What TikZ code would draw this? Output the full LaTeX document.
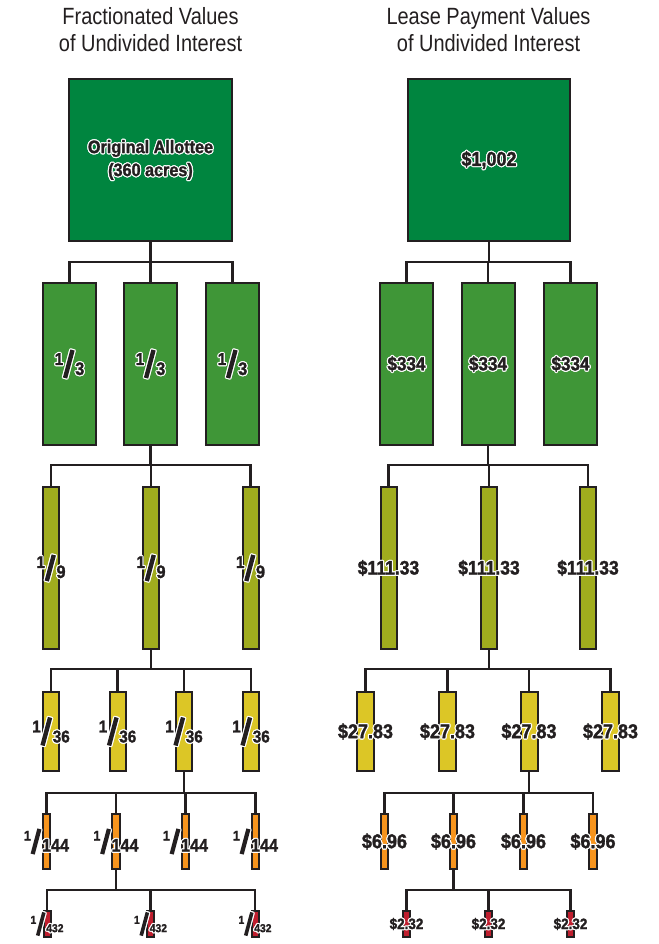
\documentclass[tikz,border=0pt]{standalone}
\usepackage{fontspec}
\setmainfont{Liberation Sans}
\newfontfamily\labfont[FakeStretch=0.9,FakeBold=1.5]{Liberation Sans Bold}
\newfontfamily\titlefont[FakeStretch=0.85]{Liberation Sans}
\definecolor{ink}{HTML}{231F20}
\definecolor{c0}{HTML}{00853F}
\definecolor{c1}{HTML}{3F9637}
\definecolor{c2}{HTML}{A0AC1E}
\definecolor{c3}{HTML}{DCC626}
\definecolor{c4}{HTML}{F7941D}
\definecolor{c5}{HTML}{BF1E2E}
\newsavebox\halobox
\newcommand\halocp[2]{\rlap{\hspace*{#1}\raisebox{#2}{\copy\halobox}}}
\newcommand\halo[1]{\setbox\halobox\hbox{#1}{\color{white}\halocp{1.2pt}{0pt}\halocp{-1.2pt}{0pt}\halocp{0pt}{1.2pt}\halocp{0pt}{-1.2pt}\halocp{0.85pt}{0.85pt}\halocp{-0.85pt}{0.85pt}\halocp{0.85pt}{-0.85pt}\halocp{-0.85pt}{-0.85pt}}{\color{ink}\copy\halobox}}
\newcommand\lab[2]{\makebox[0pt]{\halo{\labfont\fontsize{#1}{#1}\selectfont #2}}}
% #1 num size, #2 num raise, #3 slash height, #4 slash thickness, #5 slash lower, #6 den size, #7 den
\newcommand\frc[7]{\raisebox{#2}{\fontsize{#1}{#1}\selectfont 1}\kern-0.3pt\raisebox{-#5}{\rotatebox{-15}{\rule{#4}{#3}}}\kern0.6pt{\fontsize{#6}{#6}\selectfont #7}}
\newcommand\frlab[7]{\makebox[0pt]{\halo{\labfont\frc{#1}{#2}{#3}{#4}{#5}{#6}{#7}}}}
\newcommand\branch[5]{%
  \coordinate (#1-bus) at (0,#2);
  \draw[conn] (#1.south) -- (#1.south |- #1-bus);
  \draw[conn] (#3.north) -- (#3.north |- #1-bus) -- (#4.north |- #1-bus) -- (#4.north);
  \foreach \c in {#5} \draw[conn] (\c.north) -- (\c.north |- #1-bus);
}
\tikzset{
  box/.style={draw=ink, line width=2pt, rectangle, inner sep=0pt, outer sep=0pt},
  conn/.style={draw=ink, line width=2.2pt},
  ttl/.style={anchor=base, inner sep=0pt, text=ink, font=\titlefont\fontsize{23.5}{27}\selectfont},
}
\begin{document}
\begin{tikzpicture}[x=1pt,y=-1pt]
\useasboundingbox (0,0) rectangle (658,944);
\fill[white] (0,0) rectangle (658,944);
% titles
\node[ttl] (tl1) at (150.5,25) {Fractionated Values};
\node[ttl] (tl2) at (150.5,52) {of Undivided Interest};
\node[ttl] (tr1) at (488.5,25) {Lease Payment Values};
\node[ttl] (tr2) at (488.5,52) {of Undivided Interest};
% ---------------- left tree
\node[box,fill=c0,minimum width=163pt,minimum height=162pt] (a0) at (150.5,160)
  {\makebox[0pt]{\halo{\labfont\fontsize{18}{23}\selectfont\begin{tabular}{@{}c@{}}Original Allottee\\(360 acres)\end{tabular}}}};
\foreach \x [count=\i] in {69.5,150.5,232.5}
  \node[box,fill=c1,minimum width=53pt,minimum height=162pt] (a1-\i) at (\x,364) {\frlab{17}{10pt}{29pt}{4.4pt}{2.5pt}{18}{3}};
\foreach \x [count=\i] in {51,151,250.5}
  \node[box,fill=c2,minimum width=16pt,minimum height=162pt] (a2-\i) at (\x,568) {\frlab{17}{10pt}{27pt}{4.4pt}{2.5pt}{18}{9}};
\foreach \x [count=\i] in {51,117.5,184,251}
  \node[box,fill=c3,minimum width=16pt,minimum height=79pt] (a3-\i) at (\x,731.5) {\frlab{17}{10pt}{29pt}{4.4pt}{2.5pt}{17}{36}};
\foreach \x [count=\i] in {46.5,116,185.5,255.5}
  \node[box,fill=c4,minimum width=7.5pt,minimum height=55pt] (a4-\i) at (\x,841.5) {\frlab{14}{11pt}{26pt}{4.2pt}{2pt}{18}{144}};
\foreach \x [count=\i] in {47,150.5,255}
  \node[box,fill=c5,minimum width=7pt,minimum height=26pt] (a5-\i) at (\x,924) {\frlab{11.5}{8.3pt}{24pt}{3.6pt}{3pt}{11.5}{432}};
% ---------------- right tree
\node[box,fill=c0,minimum width=162pt,minimum height=162pt] (b0) at (489,160) {\lab{20}{\$1,002}};
\foreach \x [count=\i] in {406.5,488,570.5}
  \node[box,fill=c1,minimum width=53pt,minimum height=162pt] (b1-\i) at (\x,364) {\lab{19}{\$334}};
\foreach \x [count=\i] in {388.5,489,588}
  \node[box,fill=c2,minimum width=16pt,minimum height=162pt] (b2-\i) at (\x,568) {\lab{19.5}{\$111.33}};
\foreach \x [count=\i] in {365.5,447.5,529,610.5}
  \node[box,fill=c3,minimum width=17pt,minimum height=79pt] (b3-\i) at (\x,731.5) {\lab{20}{\$27.83}};
\foreach \x [count=\i] in {384.5,453.5,523.5,593}
  \node[box,fill=c4,minimum width=7.5pt,minimum height=55pt] (b4-\i) at (\x,841.5) {\lab{20}{\$6.96}};
\foreach \x [count=\i] in {406.5,488.5,570.5}
  \node[box,fill=c5,minimum width=7pt,minimum height=26pt] (b5-\i) at (\x,924) {\lab{15}{\$2.32}};
% ---------------- connectors
\branch{a0}{262}{a1-1}{a1-3}{a1-2}
\branch{a1-2}{465}{a2-1}{a2-3}{a2-2}
\branch{a2-2}{669}{a3-1}{a3-4}{a3-2,a3-3}
\branch{a3-3}{793}{a4-1}{a4-4}{a4-2,a4-3}
\branch{a4-2}{890}{a5-1}{a5-3}{a5-2}
\branch{b0}{262}{b1-1}{b1-3}{b1-2}
\branch{b1-2}{465}{b2-1}{b2-3}{b2-2}
\branch{b2-2}{669}{b3-1}{b3-4}{b3-2,b3-3}
\branch{b3-3}{793}{b4-1}{b4-4}{b4-2,b4-3}
\branch{b4-2}{890}{b5-1}{b5-3}{b5-2}
\end{tikzpicture}
\end{document}
